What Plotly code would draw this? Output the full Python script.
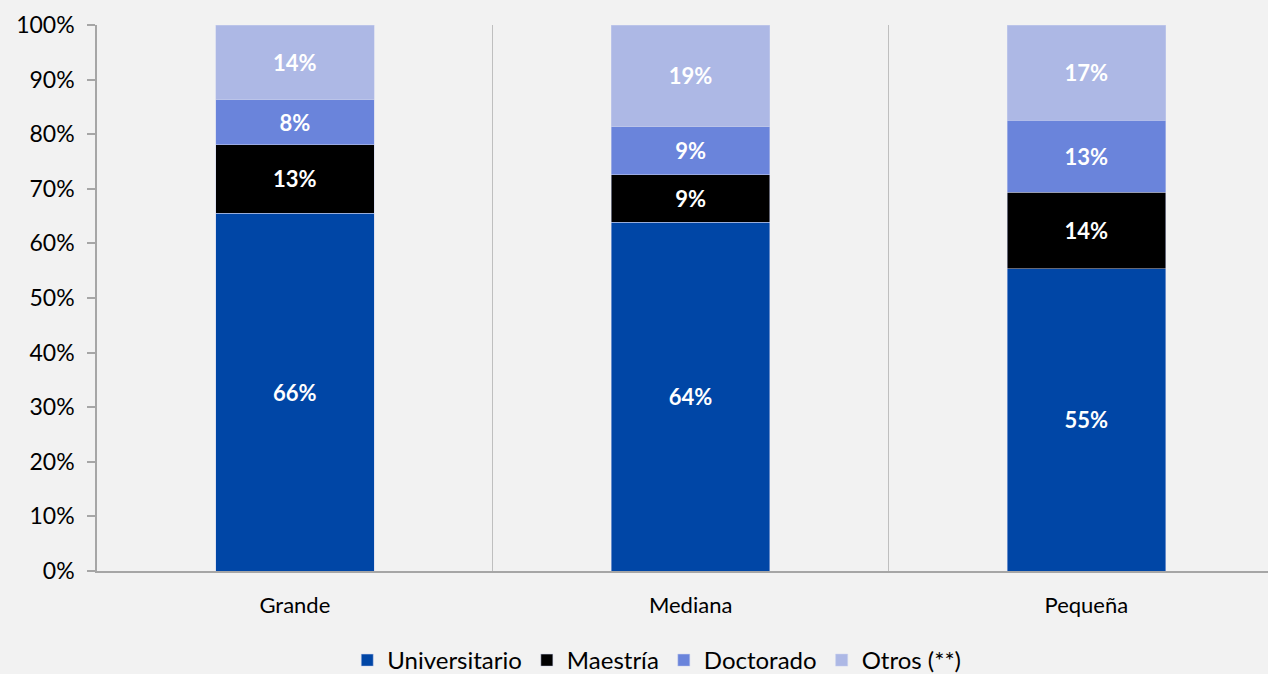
import plotly.graph_objects as go

categories = ["Grande", "Mediana", "Pequeña"]
universitario = [65.5, 63.9, 55.4]
maestria = [12.6, 8.7, 14.0]
doctorado = [8.2, 8.8, 13.2]
otros = [13.7, 18.6, 17.4]

series = [
    ("Universitario", universitario, "#0046A6"),
    ("Maestría", maestria, "#000000"),
    ("Doctorado", doctorado, "#6A84DB"),
    ("Otros (**)", otros, "#ADB8E5"),
]

FONT = "Lato"
fig = go.Figure()
for name, vals, color in series:
    fig.add_trace(go.Bar(
        name=name, x=categories, y=vals,
        marker=dict(color=color, line=dict(color="#C9D0EE", width=0.5)),
        width=0.4,
        text=[f"{round(v)}%" for v in vals],
        textposition="inside", insidetextanchor="middle",
        textangle=0, constraintext="none",
        textfont=dict(color="white", size=22, family=FONT, weight="bold"),
    ))

fig.update_layout(
    barmode="stack",
    width=1268, height=674,
    paper_bgcolor="#F2F2F2", plot_bgcolor="#F2F2F2",
    margin=dict(l=97, r=0, t=25, b=103, autoexpand=False),
    font=dict(family=FONT, size=22, color="#000000"),
    showlegend=True,
    legend=dict(orientation="h", x=0.478, xanchor="center",
                yref="container", y=0.02, yanchor="middle",
                font=dict(size=24, family=FONT), traceorder="normal",
                bgcolor="rgba(0,0,0,0)"),
)
fig.update_xaxes(
    range=[-0.5, 2.459], tickson="boundaries", showgrid=True,
    gridcolor="#BFBFBF", gridwidth=1.2, showline=True, linecolor="#A6A6A6", linewidth=1.5,
    ticks="", tickfont=dict(size=22), ticklabelstandoff=14, fixedrange=True,
)
fig.update_yaxes(
    range=[0, 100], dtick=10, ticksuffix="%", showgrid=False,
    showline=True, linecolor="#A6A6A6", linewidth=1.5,
    ticks="outside", ticklen=8, tickcolor="#A6A6A6", tickwidth=1.5,
    tickfont=dict(size=23), ticklabelstandoff=8, zeroline=False,
)
fig.write_html("out.html", config={"displayModeBar": False},
               post_script="document.body.style.margin='0';document.body.style.overflow='hidden';")
